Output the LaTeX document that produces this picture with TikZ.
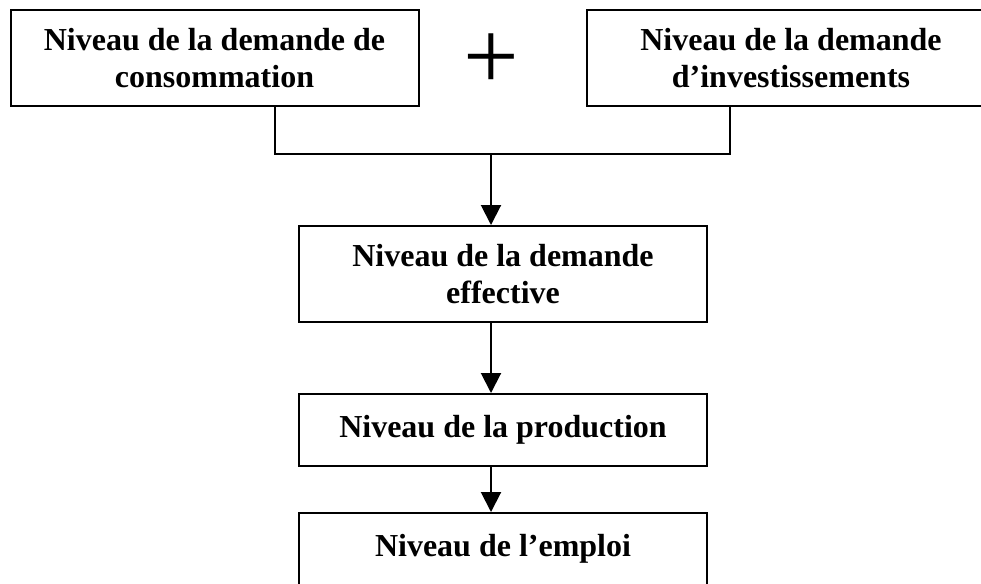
\documentclass[tikz,border=0pt]{standalone}
\usepackage{fontspec}
\setmainfont{Liberation Serif}
\usetikzlibrary{arrows.meta}

\begin{document}
\begin{tikzpicture}[x=0.75pt,y=0.75pt,yscale=-1,xscale=1,line width=1.5pt,
  niveau/.style={draw, align=center, inner sep=0pt, minimum width=306pt,
    font=\fontsize{24}{27.6}\selectfont\bfseries},
  fleche/.style={-{Triangle[width=15pt,length=15pt]}}]
\path[use as bounding box] (0,0) rectangle (981,583);

%Shape: Rectangle [id:conso] 
\node [niveau, minimum height=72pt] (conso) at (214.5,58) {Niveau de la demande de\\consommation};
%Shape: Rectangle [id:invest] 
\node [niveau, minimum height=72pt] (invest) at (791,58) {Niveau de la demande\\d’investissements};
% Text Node
\node [inner sep=0pt, font=\fontsize{74}{74}\selectfont] (plus) at (491,62) {+};

%Shape: Rectangle [id:effective] 
\node [niveau, minimum height=72pt] (effective) at (503,274) {Niveau de la demande\\effective};
%Shape: Rectangle [id:production] 
\node [niveau, minimum height=54pt] (production) at (503,430) {Niveau de la production};
%Shape: Rectangle [id:emploi] 
\node [niveau, minimum height=54pt] (emploi) at (503,549) {Niveau de l’emploi};

%Straight Lines [id:jonction] 
\coordinate (jonction) at (491,154);
\draw ([xshift=45.4pt]conso.south) |- (jonction) -| ([xshift=-45.4pt]invest.south);
\draw [fleche] (jonction) -- (effective.north -| jonction);
%Straight Lines [id:suite] 
\draw [fleche] (effective.south -| jonction) -- (production.north -| jonction);
\draw [fleche] (production.south -| jonction) -- (emploi.north -| jonction);

\end{tikzpicture}
\end{document}
